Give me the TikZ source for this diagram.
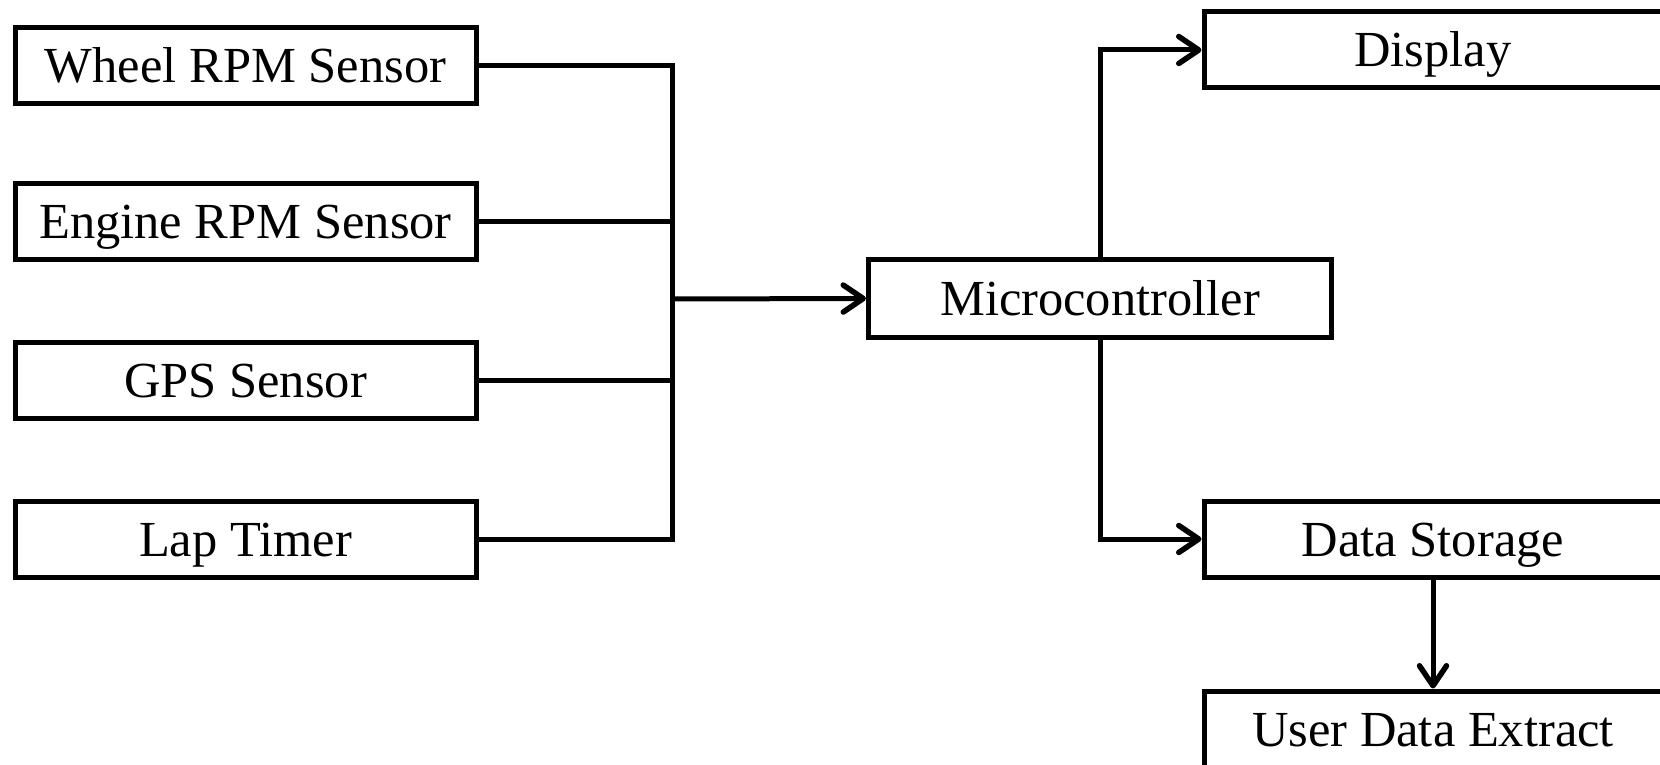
\documentclass[tikz,border=0pt]{standalone}
\usepackage{fontspec}
\setmainfont{Liberation Serif}
\usetikzlibrary{arrows.meta}
\begin{document}
\begin{tikzpicture}[x=1pt,y=-1pt,
  blk/.style={draw=black, line width=5pt, fill=white, inner sep=0pt,
    minimum height=76pt, text height=40pt, text depth=6pt,
    font=\fontsize{50.5}{60}\selectfont},
  lblk/.style={blk, minimum width=461pt},
  rblk/.style={blk, minimum width=458pt},
  conn/.style={line width=5pt},
  arr/.style={conn, -{Straight Barb[length=20pt,width=27pt,line width=5.5pt,round]}}]
\useasboundingbox (0,0) rectangle (1660,765);
\fill[white] (0,0) rectangle (1660,765);
\node[lblk] (w) at (245.5,66) {Wheel RPM Sensor};
\node[lblk] (e) at (245.5,221) {Engine RPM Sensor};
\node[lblk] (g) at (245.5,380) {GPS Sensor};
\node[lblk] (l) at (245.5,539) {Lap Timer};
\node[blk, minimum width=463pt, minimum height=78pt] (mc) at (1100,298.5) {Microcontroller};
\node[rblk] (disp) at (1433,50) {Display};
\node[rblk] (ds) at (1433,539) {Data Storage};
\node[rblk] (ude) at (1433,729) {User Data Extract};
\coordinate (bus) at (672,299);
\draw[conn] (w.east) -- (w.east -| bus) -- (l.east -| bus) -- (l.east);
\draw[conn] (e.east) -- (e.east -| bus);
\draw[conn] (g.east) -- (g.east -| bus);
\draw[arr] (bus) -- (mc.west);
\draw[arr] (mc.north) |- (disp.west);
\draw[arr] (mc.south) |- (ds.west);
\draw[arr] (ds.south) -- (ude.north);
\end{tikzpicture}
\end{document}
